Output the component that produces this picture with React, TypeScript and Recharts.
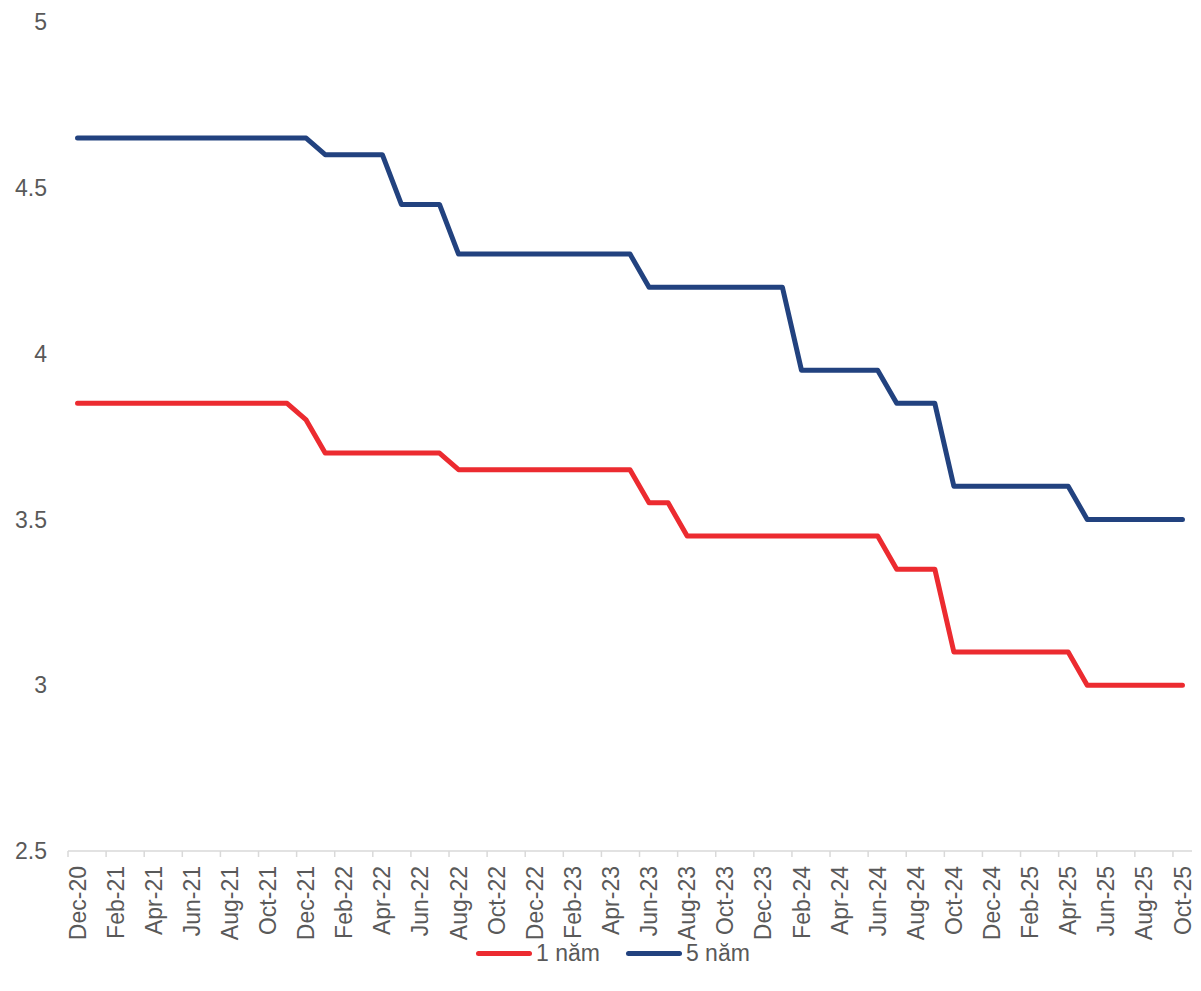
import React from 'react';
import { LineChart, Line, XAxis, YAxis, Legend } from 'recharts';

const months = [
  'Dec-20',
  'Jan-21', 'Feb-21', 'Mar-21', 'Apr-21', 'May-21', 'Jun-21', 'Jul-21', 'Aug-21', 'Sep-21', 'Oct-21', 'Nov-21', 'Dec-21',
  'Jan-22', 'Feb-22', 'Mar-22', 'Apr-22', 'May-22', 'Jun-22', 'Jul-22', 'Aug-22', 'Sep-22', 'Oct-22', 'Nov-22', 'Dec-22',
  'Jan-23', 'Feb-23', 'Mar-23', 'Apr-23', 'May-23', 'Jun-23', 'Jul-23', 'Aug-23', 'Sep-23', 'Oct-23', 'Nov-23', 'Dec-23',
  'Jan-24', 'Feb-24', 'Mar-24', 'Apr-24', 'May-24', 'Jun-24', 'Jul-24', 'Aug-24', 'Sep-24', 'Oct-24', 'Nov-24', 'Dec-24',
  'Jan-25', 'Feb-25', 'Mar-25', 'Apr-25', 'May-25', 'Jun-25', 'Jul-25', 'Aug-25', 'Sep-25', 'Oct-25',
];

const oneYear = [
  3.85, 3.85, 3.85, 3.85, 3.85, 3.85, 3.85, 3.85, 3.85, 3.85, 3.85, 3.85, 3.8,
  3.7, 3.7, 3.7, 3.7, 3.7, 3.7, 3.7, 3.65, 3.65, 3.65, 3.65, 3.65,
  3.65, 3.65, 3.65, 3.65, 3.65, 3.55, 3.55, 3.45, 3.45, 3.45, 3.45, 3.45,
  3.45, 3.45, 3.45, 3.45, 3.45, 3.45, 3.35, 3.35, 3.35, 3.1, 3.1, 3.1,
  3.1, 3.1, 3.1, 3.1, 3.0, 3.0, 3.0, 3.0, 3.0, 3.0,
];

const fiveYear = [
  4.65, 4.65, 4.65, 4.65, 4.65, 4.65, 4.65, 4.65, 4.65, 4.65, 4.65, 4.65, 4.65,
  4.6, 4.6, 4.6, 4.6, 4.45, 4.45, 4.45, 4.3, 4.3, 4.3, 4.3, 4.3,
  4.3, 4.3, 4.3, 4.3, 4.3, 4.2, 4.2, 4.2, 4.2, 4.2, 4.2, 4.2,
  4.2, 3.95, 3.95, 3.95, 3.95, 3.95, 3.85, 3.85, 3.85, 3.6, 3.6, 3.6,
  3.6, 3.6, 3.6, 3.6, 3.5, 3.5, 3.5, 3.5, 3.5, 3.5,
];

const yTicks = [2.5, 3, 3.5, 4, 4.5, 5];
const xTicks = months.map((_, i) => i).filter((i) => i % 2 === 0);

const RED = '#EC2B30';
const BLUE = '#22427F';
const TEXT = '#595959';
const AXIS = '#D9D9D9';
const FONT = '"Liberation Sans", Arial, sans-serif';
const FONT_SIZE = 23;

const WIDTH = 1201;
const HEIGHT = 991;
const MARGIN = { top: 22, right: 9, left: 0, bottom: 23 };
const Y_AXIS_WIDTH = 68;
const BAND = (WIDTH - MARGIN.right - Y_AXIS_WIDTH) / months.length;

const data = months.map((label, idx) => ({
  idx,
  label,
  oneYear: oneYear[idx],
  fiveYear: fiveYear[idx],
}));

// tick marks sit between categories (Excel style), labels sit on the category
function MonthTick(props: any) {
  const { x, y, payload } = props;
  const label = months[payload.value] ?? '';
  const tx = x - BAND / 2;
  return (
    <g>
      <line x1={tx} y1={y} x2={tx} y2={y + 6} stroke={AXIS} strokeWidth={1.5} />
      <text
        x={x}
        y={y + 15}
        dy="0.35em"
        transform={`rotate(-90, ${x}, ${y + 15})`}
        textAnchor="end"
        fill={TEXT}
        fontSize={FONT_SIZE}
        fontFamily={FONT}
      >
        {label}
      </text>
    </g>
  );
}

const legendItems = [
  { label: '1 năm', color: RED },
  { label: '5 năm', color: BLUE },
];

function ChartLegend() {
  return (
    <div
      style={{
        display: 'flex',
        alignItems: 'center',
        height: 30,
        paddingLeft: 476,
        fontFamily: FONT,
        fontSize: FONT_SIZE,
        color: TEXT,
      }}
    >
      {legendItems.map((item) => (
        <div key={item.label} style={{ display: 'flex', alignItems: 'center', marginRight: 26 }}>
          <span
            style={{
              display: 'inline-block',
              width: 56,
              height: 5,
              borderRadius: 3,
              background: item.color,
              marginRight: 4,
            }}
          />
          <span>{item.label}</span>
        </div>
      ))}
    </div>
  );
}

export default function App() {
  return (
    <div style={{ position: 'absolute', left: 0, top: 0, width: WIDTH, height: HEIGHT, background: '#fff' }}>
      <LineChart width={WIDTH} height={HEIGHT} data={data} margin={MARGIN}>
        <XAxis
          dataKey="idx"
          type="number"
          domain={[-0.5, months.length - 0.5]}
          ticks={xTicks}
          interval={0}
          allowDataOverflow
          height={87}
          tickLine={false}
          tickSize={0}
          tickMargin={0}
          axisLine={{ stroke: AXIS, strokeWidth: 1.5 }}
          tick={<MonthTick />}
        />
        <YAxis
          domain={[2.5, 5]}
          ticks={yTicks}
          width={Y_AXIS_WIDTH}
          axisLine={false}
          tickLine={false}
          tickSize={6}
          tickMargin={15}
          tick={{ fill: TEXT, fontSize: FONT_SIZE, fontFamily: FONT }}
        />
        <Legend verticalAlign="bottom" height={30} content={<ChartLegend />} wrapperStyle={{ left: 0, width: WIDTH }} />
        <Line
          type="linear"
          dataKey="oneYear"
          name="1 năm"
          stroke={RED}
          strokeWidth={5}
          strokeLinecap="round"
          strokeLinejoin="round"
          dot={false}
          activeDot={false}
          isAnimationActive={false}
        />
        <Line
          type="linear"
          dataKey="fiveYear"
          name="5 năm"
          stroke={BLUE}
          strokeWidth={5}
          strokeLinecap="round"
          strokeLinejoin="round"
          dot={false}
          activeDot={false}
          isAnimationActive={false}
        />
      </LineChart>
    </div>
  );
}
